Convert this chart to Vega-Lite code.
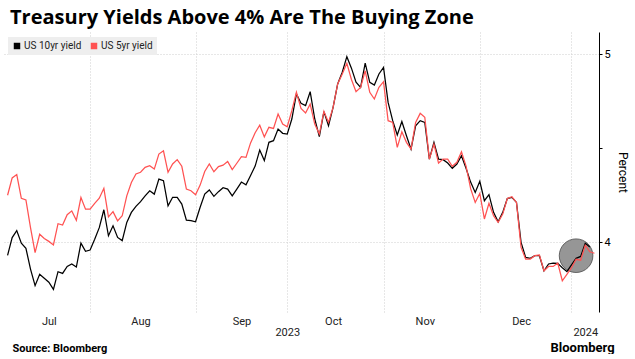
{
  "$schema": "https://vega.github.io/schema/vega-lite/v6.json",
  "background": "white",
  "padding": {"left": 3, "top": 8, "right": 0, "bottom": 0},
  "width": 596,
  "height": 280,
  "title": {"text": "Treasury Yields Above 4% Are The Buying Zone", "anchor": "start", "frame": "group", "font": "Open Sans", "fontSize": 20, "fontWeight": "bold", "color": "#000000", "offset": 4, "dx": 7},
  "config": {"view": {"stroke": null}, "font": "Roboto"},
  "datasets": {
    "yields": [
      {"date": "2023-07-05", "US 10yr yield": 3.931, "US 5yr yield": 4.250},
      {"date": "2023-07-06", "US 10yr yield": 4.025, "US 5yr yield": 4.342},
      {"date": "2023-07-07", "US 10yr yield": 4.062, "US 5yr yield": 4.360},
      {"date": "2023-07-10", "US 10yr yield": 3.995, "US 5yr yield": 4.234},
      {"date": "2023-07-11", "US 10yr yield": 3.968, "US 5yr yield": 4.225},
      {"date": "2023-07-12", "US 10yr yield": 3.858, "US 5yr yield": 4.078},
      {"date": "2023-07-13", "US 10yr yield": 3.770, "US 5yr yield": 3.945},
      {"date": "2023-07-14", "US 10yr yield": 3.830, "US 5yr yield": 4.043},
      {"date": "2023-07-17", "US 10yr yield": 3.809, "US 5yr yield": 4.020},
      {"date": "2023-07-18", "US 10yr yield": 3.788, "US 5yr yield": 4.005},
      {"date": "2023-07-19", "US 10yr yield": 3.750, "US 5yr yield": 3.986},
      {"date": "2023-07-20", "US 10yr yield": 3.844, "US 5yr yield": 4.099},
      {"date": "2023-07-21", "US 10yr yield": 3.835, "US 5yr yield": 4.092},
      {"date": "2023-07-24", "US 10yr yield": 3.872, "US 5yr yield": 4.147},
      {"date": "2023-07-25", "US 10yr yield": 3.885, "US 5yr yield": 4.167},
      {"date": "2023-07-26", "US 10yr yield": 3.869, "US 5yr yield": 4.117},
      {"date": "2023-07-27", "US 10yr yield": 3.996, "US 5yr yield": 4.238},
      {"date": "2023-07-28", "US 10yr yield": 3.952, "US 5yr yield": 4.176},
      {"date": "2023-07-31", "US 10yr yield": 3.959, "US 5yr yield": 4.176},
      {"date": "2023-08-01", "US 10yr yield": 4.016, "US 5yr yield": 4.207},
      {"date": "2023-08-02", "US 10yr yield": 4.078, "US 5yr yield": 4.234},
      {"date": "2023-08-03", "US 10yr yield": 4.173, "US 5yr yield": 4.287},
      {"date": "2023-08-04", "US 10yr yield": 4.035, "US 5yr yield": 4.135},
      {"date": "2023-08-07", "US 10yr yield": 4.088, "US 5yr yield": 4.163},
      {"date": "2023-08-08", "US 10yr yield": 4.026, "US 5yr yield": 4.114},
      {"date": "2023-08-09", "US 10yr yield": 4.009, "US 5yr yield": 4.141},
      {"date": "2023-08-10", "US 10yr yield": 4.106, "US 5yr yield": 4.247},
      {"date": "2023-08-11", "US 10yr yield": 4.159, "US 5yr yield": 4.318},
      {"date": "2023-08-14", "US 10yr yield": 4.191, "US 5yr yield": 4.363},
      {"date": "2023-08-15", "US 10yr yield": 4.216, "US 5yr yield": 4.372},
      {"date": "2023-08-16", "US 10yr yield": 4.247, "US 5yr yield": 4.398},
      {"date": "2023-08-17", "US 10yr yield": 4.274, "US 5yr yield": 4.407},
      {"date": "2023-08-18", "US 10yr yield": 4.256, "US 5yr yield": 4.389},
      {"date": "2023-08-21", "US 10yr yield": 4.336, "US 5yr yield": 4.469},
      {"date": "2023-08-22", "US 10yr yield": 4.327, "US 5yr yield": 4.486},
      {"date": "2023-08-23", "US 10yr yield": 4.194, "US 5yr yield": 4.372},
      {"date": "2023-08-24", "US 10yr yield": 4.239, "US 5yr yield": 4.416},
      {"date": "2023-08-25", "US 10yr yield": 4.239, "US 5yr yield": 4.439},
      {"date": "2023-08-28", "US 10yr yield": 4.203, "US 5yr yield": 4.404},
      {"date": "2023-08-29", "US 10yr yield": 4.118, "US 5yr yield": 4.283},
      {"date": "2023-08-30", "US 10yr yield": 4.115, "US 5yr yield": 4.274},
      {"date": "2023-08-31", "US 10yr yield": 4.109, "US 5yr yield": 4.253},
      {"date": "2023-09-01", "US 10yr yield": 4.186, "US 5yr yield": 4.304},
      {"date": "2023-09-05", "US 10yr yield": 4.256, "US 5yr yield": 4.376},
      {"date": "2023-09-06", "US 10yr yield": 4.278, "US 5yr yield": 4.416},
      {"date": "2023-09-07", "US 10yr yield": 4.244, "US 5yr yield": 4.375},
      {"date": "2023-09-08", "US 10yr yield": 4.269, "US 5yr yield": 4.402},
      {"date": "2023-09-11", "US 10yr yield": 4.290, "US 5yr yield": 4.410},
      {"date": "2023-09-12", "US 10yr yield": 4.283, "US 5yr yield": 4.429},
      {"date": "2023-09-13", "US 10yr yield": 4.247, "US 5yr yield": 4.386},
      {"date": "2023-09-14", "US 10yr yield": 4.283, "US 5yr yield": 4.420},
      {"date": "2023-09-15", "US 10yr yield": 4.320, "US 5yr yield": 4.455},
      {"date": "2023-09-18", "US 10yr yield": 4.305, "US 5yr yield": 4.451},
      {"date": "2023-09-19", "US 10yr yield": 4.355, "US 5yr yield": 4.528},
      {"date": "2023-09-20", "US 10yr yield": 4.405, "US 5yr yield": 4.582},
      {"date": "2023-09-21", "US 10yr yield": 4.490, "US 5yr yield": 4.622},
      {"date": "2023-09-22", "US 10yr yield": 4.434, "US 5yr yield": 4.560},
      {"date": "2023-09-25", "US 10yr yield": 4.531, "US 5yr yield": 4.611},
      {"date": "2023-09-26", "US 10yr yield": 4.540, "US 5yr yield": 4.605},
      {"date": "2023-09-27", "US 10yr yield": 4.602, "US 5yr yield": 4.681},
      {"date": "2023-09-28", "US 10yr yield": 4.579, "US 5yr yield": 4.628},
      {"date": "2023-09-29", "US 10yr yield": 4.575, "US 5yr yield": 4.614},
      {"date": "2023-10-02", "US 10yr yield": 4.655, "US 5yr yield": 4.699},
      {"date": "2023-10-03", "US 10yr yield": 4.788, "US 5yr yield": 4.797},
      {"date": "2023-10-04", "US 10yr yield": 4.738, "US 5yr yield": 4.711},
      {"date": "2023-10-05", "US 10yr yield": 4.726, "US 5yr yield": 4.687},
      {"date": "2023-10-06", "US 10yr yield": 4.800, "US 5yr yield": 4.734},
      {"date": "2023-10-10", "US 10yr yield": 4.655, "US 5yr yield": 4.628},
      {"date": "2023-10-11", "US 10yr yield": 4.561, "US 5yr yield": 4.575},
      {"date": "2023-10-12", "US 10yr yield": 4.694, "US 5yr yield": 4.696},
      {"date": "2023-10-13", "US 10yr yield": 4.619, "US 5yr yield": 4.637},
      {"date": "2023-10-16", "US 10yr yield": 4.717, "US 5yr yield": 4.717},
      {"date": "2023-10-17", "US 10yr yield": 4.841, "US 5yr yield": 4.841},
      {"date": "2023-10-18", "US 10yr yield": 4.903, "US 5yr yield": 4.894},
      {"date": "2023-10-19", "US 10yr yield": 4.986, "US 5yr yield": 4.951},
      {"date": "2023-10-20", "US 10yr yield": 4.925, "US 5yr yield": 4.865},
      {"date": "2023-10-23", "US 10yr yield": 4.850, "US 5yr yield": 4.800},
      {"date": "2023-10-24", "US 10yr yield": 4.823, "US 5yr yield": 4.823},
      {"date": "2023-10-25", "US 10yr yield": 4.952, "US 5yr yield": 4.911},
      {"date": "2023-10-26", "US 10yr yield": 4.850, "US 5yr yield": 4.797},
      {"date": "2023-10-27", "US 10yr yield": 4.835, "US 5yr yield": 4.761},
      {"date": "2023-10-30", "US 10yr yield": 4.894, "US 5yr yield": 4.823},
      {"date": "2023-10-31", "US 10yr yield": 4.929, "US 5yr yield": 4.853},
      {"date": "2023-11-01", "US 10yr yield": 4.743, "US 5yr yield": 4.646},
      {"date": "2023-11-02", "US 10yr yield": 4.646, "US 5yr yield": 4.637},
      {"date": "2023-11-03", "US 10yr yield": 4.570, "US 5yr yield": 4.504},
      {"date": "2023-11-06", "US 10yr yield": 4.642, "US 5yr yield": 4.587},
      {"date": "2023-11-07", "US 10yr yield": 4.566, "US 5yr yield": 4.531},
      {"date": "2023-11-08", "US 10yr yield": 4.495, "US 5yr yield": 4.495},
      {"date": "2023-11-09", "US 10yr yield": 4.619, "US 5yr yield": 4.637},
      {"date": "2023-11-10", "US 10yr yield": 4.646, "US 5yr yield": 4.685},
      {"date": "2023-11-13", "US 10yr yield": 4.637, "US 5yr yield": 4.664},
      {"date": "2023-11-14", "US 10yr yield": 4.442, "US 5yr yield": 4.442},
      {"date": "2023-11-15", "US 10yr yield": 4.531, "US 5yr yield": 4.522},
      {"date": "2023-11-16", "US 10yr yield": 4.442, "US 5yr yield": 4.421},
      {"date": "2023-11-17", "US 10yr yield": 4.439, "US 5yr yield": 4.442},
      {"date": "2023-11-20", "US 10yr yield": 4.421, "US 5yr yield": 4.442},
      {"date": "2023-11-21", "US 10yr yield": 4.393, "US 5yr yield": 4.404},
      {"date": "2023-11-22", "US 10yr yield": 4.416, "US 5yr yield": 4.425},
      {"date": "2023-11-24", "US 10yr yield": 4.460, "US 5yr yield": 4.481},
      {"date": "2023-11-27", "US 10yr yield": 4.393, "US 5yr yield": 4.405},
      {"date": "2023-11-28", "US 10yr yield": 4.320, "US 5yr yield": 4.285},
      {"date": "2023-11-29", "US 10yr yield": 4.265, "US 5yr yield": 4.212},
      {"date": "2023-11-30", "US 10yr yield": 4.324, "US 5yr yield": 4.260},
      {"date": "2023-12-01", "US 10yr yield": 4.221, "US 5yr yield": 4.124},
      {"date": "2023-12-04", "US 10yr yield": 4.253, "US 5yr yield": 4.207},
      {"date": "2023-12-05", "US 10yr yield": 4.159, "US 5yr yield": 4.141},
      {"date": "2023-12-06", "US 10yr yield": 4.109, "US 5yr yield": 4.106},
      {"date": "2023-12-07", "US 10yr yield": 4.159, "US 5yr yield": 4.150},
      {"date": "2023-12-08", "US 10yr yield": 4.233, "US 5yr yield": 4.233},
      {"date": "2023-12-11", "US 10yr yield": 4.239, "US 5yr yield": 4.242},
      {"date": "2023-12-12", "US 10yr yield": 4.212, "US 5yr yield": 4.212},
      {"date": "2023-12-13", "US 10yr yield": 4.000, "US 5yr yield": 3.973},
      {"date": "2023-12-14", "US 10yr yield": 3.920, "US 5yr yield": 3.911},
      {"date": "2023-12-15", "US 10yr yield": 3.915, "US 5yr yield": 3.911},
      {"date": "2023-12-18", "US 10yr yield": 3.929, "US 5yr yield": 3.929},
      {"date": "2023-12-19", "US 10yr yield": 3.929, "US 5yr yield": 3.933},
      {"date": "2023-12-20", "US 10yr yield": 3.849, "US 5yr yield": 3.849},
      {"date": "2023-12-21", "US 10yr yield": 3.885, "US 5yr yield": 3.872},
      {"date": "2023-12-22", "US 10yr yield": 3.890, "US 5yr yield": 3.872},
      {"date": "2023-12-26", "US 10yr yield": 3.888, "US 5yr yield": 3.890},
      {"date": "2023-12-27", "US 10yr yield": 3.865, "US 5yr yield": 3.796},
      {"date": "2023-12-28", "US 10yr yield": 3.845, "US 5yr yield": 3.830},
      {"date": "2023-12-29", "US 10yr yield": 3.880, "US 5yr yield": 3.865},
      {"date": "2024-01-02", "US 10yr yield": 3.915, "US 5yr yield": 3.910},
      {"date": "2024-01-03", "US 10yr yield": 3.925, "US 5yr yield": 3.905},
      {"date": "2024-01-04", "US 10yr yield": 3.995, "US 5yr yield": 3.985},
      {"date": "2024-01-05", "US 10yr yield": 3.975, "US 5yr yield": 3.950},
      {"date": "2024-01-08", "US 10yr yield": null, "US 5yr yield": 3.942}
    ],
    "highlight": [
      {"date": "2024-01-02", "yield": 3.929}
    ]
  },
  "resolve": {"axis": {"x": "independent"}},
  "layer": [
    {
      "data": {"name": "highlight"},
      "mark": {"type": "point", "shape": "circle", "filled": true, "fill": "#969696", "stroke": "#4a4a4a", "strokeWidth": 0.8, "opacity": 1, "size": 1130},
      "encoding": {
        "x": {
          "field": "date", "type": "ordinal",
          "scale": {"type": "point", "padding": 1.54},
          "axis": {
            "orient": "bottom",
            "values": ["2023-07-31", "2023-08-31", "2023-09-29", "2023-10-31", "2023-11-30", "2023-12-29"],
            "grid": true, "gridColor": "#cfcfcf", "gridDash": [1, 2], "gridWidth": 1,
            "labels": false, "ticks": false, "domain": false,
            "title": "Bloomberg", "titleFont": "Roboto", "titleFontSize": 13, "titleFontWeight": "bold", "titleColor": "#000000",
            "titleAnchor": "start", "titleAlign": "left", "titleBaseline": "alphabetic", "titleX": 547, "titleY": 39
          }
        },
        "y": {
          "field": "yield", "type": "quantitative",
          "scale": {"domain": [3.63, 5.117], "nice": false, "zero": false},
          "axis": {
            "orient": "right", "title": "Percent", "values": [4, 4.5, 5],
            "labelExpr": "datum.value == 4 ? '4' : datum.value == 5 ? '5' : ''",
            "domain": true, "domainColor": "#000000", "domainWidth": 1,
            "ticks": true, "tickColor": "#000000", "tickSize": 3,
            "labelPadding": 2, "labelFont": "Roboto", "labelFontSize": 11, "labelColor": "#000000",
            "grid": true, "gridColor": "#cfcfcf", "gridDash": [1, 2],
            "gridOpacity": {"condition": {"test": "datum.value == 4.5", "value": 0}, "value": 1},
            "titleFont": "Roboto", "titleFontSize": 12, "titleFontWeight": "normal", "titleColor": "#000000", "titlePadding": 5
          }
        }
      }
    },
    {
      "data": {"name": "yields"},
      "transform": [{"fold": ["US 10yr yield", "US 5yr yield"], "as": ["series", "yield"]}],
      "mark": {"type": "line", "strokeWidth": 1.25},
      "encoding": {
        "x": {
          "field": "date", "type": "ordinal",
          "scale": {"type": "point", "padding": 1.54},
          "axis": {
            "orient": "bottom",
            "values": ["2023-07-18", "2023-08-15", "2023-09-15", "2023-09-29", "2023-10-16", "2023-11-13", "2023-12-13", "2024-01-04"],
            "labelExpr": "datum.value == '2023-07-18' ? 'Jul' : datum.value == '2023-08-15' ? 'Aug' : datum.value == '2023-09-15' ? 'Sep' : datum.value == '2023-09-29' ? ['', '2023'] : datum.value == '2023-10-16' ? 'Oct' : datum.value == '2023-11-13' ? 'Nov' : datum.value == '2023-12-13' ? 'Dec' : ['', '2024']",
            "labelAngle": 0, "labelAlign": "center", "labelBaseline": "top", "labelOverlap": false, "labelBound": false, "labelFlush": false,
            "labelFont": "Roboto", "labelFontSize": 11, "labelColor": "#222222", "labelPadding": 3, "labelLineHeight": 11,
            "ticks": false, "domain": false, "grid": false,
            "title": "Source: Bloomberg", "titleFont": "Roboto", "titleFontSize": 11, "titleFontWeight": "bold", "titleColor": "#000000",
            "titleAnchor": "start", "titleAlign": "left", "titleBaseline": "alphabetic", "titleX": 9, "titleY": 39
          }
        },
        "y": {
          "field": "yield", "type": "quantitative",
          "scale": {"domain": [3.63, 5.117], "nice": false, "zero": false},
          "axis": {
            "orient": "right", "title": "Percent", "values": [4, 4.5, 5],
            "labelExpr": "datum.value == 4 ? '4' : datum.value == 5 ? '5' : ''",
            "domain": true, "domainColor": "#000000", "domainWidth": 1,
            "ticks": true, "tickColor": "#000000", "tickSize": 3,
            "labelPadding": 2, "labelFont": "Roboto", "labelFontSize": 11, "labelColor": "#000000",
            "grid": true, "gridColor": "#cfcfcf", "gridDash": [1, 2],
            "gridOpacity": {"condition": {"test": "datum.value == 4.5", "value": 0}, "value": 1},
            "titleFont": "Roboto", "titleFontSize": 12, "titleFontWeight": "normal", "titleColor": "#000000", "titlePadding": 5
          }
        },
        "color": {
          "field": "series", "type": "nominal",
          "scale": {"domain": ["US 10yr yield", "US 5yr yield"], "range": ["#000000", "#ff5252"]},
          "legend": {
            "title": null, "orient": "top-left", "offset": 5, "direction": "horizontal",
            "symbolType": "square", "symbolSize": 42, "labelFont": "Roboto", "labelFontSize": 10, "labelColor": "#222222",
            "fillColor": "#eeeeee", "padding": 4, "columnPadding": 7, "labelOffset": 2,
            "encode": {"symbols": {"update": {"fill": {"scale": "color", "field": "value"}, "strokeWidth": {"value": 0}}}}
          }
        }
      }
    }
  ]
}
